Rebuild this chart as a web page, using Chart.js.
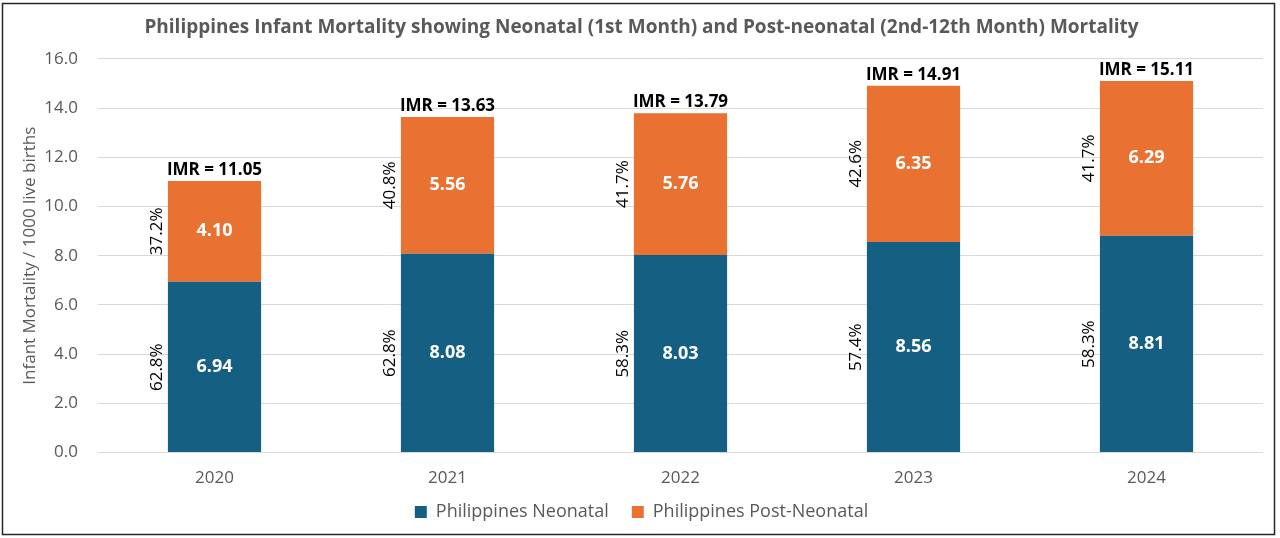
<!DOCTYPE html>
<html>
<head>
<meta charset="utf-8">
<script src="https://cdn.jsdelivr.net/npm/chart.js@4.4.1/dist/chart.umd.min.js"></script>
<style>
html,body{margin:0;padding:0;background:#fff;}
#wrap{width:1280px;height:538px;position:relative;}
</style>
</head>
<body>
<div id="wrap"><canvas id="c" width="1280" height="538"></canvas></div>
<script>
const years = ['2020', '2021', '2022', '2023', '2024'];
const neonatal = [6.94, 8.08, 8.03, 8.56, 8.81];
const postNeonatal = [4.10, 5.56, 5.76, 6.35, 6.29];
const imr = [11.05, 13.63, 13.79, 14.91, 15.11];
const neonatalPct = ['62.8%', '62.8%', '58.3%', '57.4%', '58.3%'];
const postPct = ['37.2%', '40.8%', '41.7%', '42.6%', '41.7%'];
const yTicks = [0, 2, 4, 6, 8, 10, 12, 14, 16];

const FONT = "'Open Sans', 'Liberation Sans', Arial, sans-serif";
const GREY = '#595959';
const LEGEND_PAD = 23;

const labelPlugin = {
  id: 'labels',
  afterLayout(chart) {
    const lg = chart.legend;
    if (lg) { lg.top -= LEGEND_PAD; lg.bottom -= LEGEND_PAD; }
  },
  afterDatasetsDraw(chart) {
    const ctx = chart.ctx;
    const yS = chart.scales.y;
    const m0 = chart.getDatasetMeta(0);
    ctx.save();
    years.forEach((yr, i) => {
      const b0 = m0.data[i];
      const x = b0.x;
      const half = b0.width / 2;
      ctx.fillStyle = '#ffffff';
      ctx.font = 'bold 18px ' + FONT;
      ctx.textAlign = 'center';
      ctx.textBaseline = 'middle';
      const c0 = yS.getPixelForValue(neonatal[i] / 2);
      const c1 = yS.getPixelForValue(neonatal[i] + postNeonatal[i] / 2);
      ctx.fillText(neonatal[i].toFixed(2), x, c0);
      ctx.fillText(postNeonatal[i].toFixed(2), x, c1);
      ctx.fillStyle = '#000000';
      ctx.font = 'bold 17px ' + FONT;
      ctx.textBaseline = 'alphabetic';
      ctx.fillText('IMR = ' + imr[i].toFixed(2), x, yS.getPixelForValue(imr[i]) - 6);
      ctx.font = '17px ' + FONT;
      ctx.textBaseline = 'middle';
      [[neonatalPct[i], c0], [postPct[i], c1]].forEach(([t, cy]) => {
        ctx.save();
        ctx.translate(x - half - 11, cy);
        ctx.rotate(-Math.PI / 2);
        ctx.fillText(t, 0, 0);
        ctx.restore();
      });
    });
    ctx.strokeStyle = '#262626';
    ctx.lineWidth = 1.5;
    ctx.strokeRect(2.5, 3.5, 1272, 531);
    ctx.restore();
  }
};

new Chart(document.getElementById('c'), {
  type: 'bar',
  data: {
    labels: years,
    datasets: [
      { label: 'Philippines Neonatal', data: neonatal, backgroundColor: '#156082', barPercentage: 0.4, categoryPercentage: 1.0 },
      { label: 'Philippines Post-Neonatal', data: postNeonatal, backgroundColor: '#E97132', barPercentage: 0.4, categoryPercentage: 1.0 }
    ]
  },
  options: {
    responsive: false,
    animation: false,
    devicePixelRatio: 1,
    layout: { padding: { left: 20, right: 17, top: 6, bottom: 7 - LEGEND_PAD } },
    plugins: {
      title: {
        display: true,
        text: 'Philippines Infant Mortality showing Neonatal (1st Month) and Post-neonatal (2nd-12th Month) Mortality',
        color: GREY,
        font: { family: FONT, size: 19, weight: 'bold', lineHeight: 1.2 },
        padding: { top: 10, bottom: 20 }
      },
      legend: {
        position: 'bottom',
        labels: {
          color: GREY,
          font: { family: FONT, size: 18 },
          boxWidth: 12,
          boxHeight: 12,
          padding: LEGEND_PAD
        }
      },
      tooltip: { enabled: false }
    },
    scales: {
      x: {
        stacked: true,
        grid: { display: false, drawTicks: false },
        border: { display: false },
        ticks: { color: GREY, font: { family: FONT, size: 17, lineHeight: 1.2 }, padding: 15 }
      },
      y: {
        stacked: true,
        min: 0,
        max: 16,
        afterBuildTicks(axis) { axis.ticks = yTicks.map(v => ({ value: v })); },
        afterFit(axis) { axis.width = 78; },
        grid: { color: '#d9d9d9', drawTicks: false },
        border: { display: false },
        ticks: {
          color: GREY,
          font: { family: FONT, size: 17 },
          padding: 20,
          callback: v => Number(v).toFixed(1)
        },
        title: {
          display: true,
          text: 'Infant Mortality / 1000 live births',
          color: GREY,
          font: { family: FONT, size: 17, lineHeight: 1.2 },
          padding: { top: 0, bottom: 0 }
        }
      }
    }
  },
  plugins: [labelPlugin]
});
</script>
</body>
</html>
